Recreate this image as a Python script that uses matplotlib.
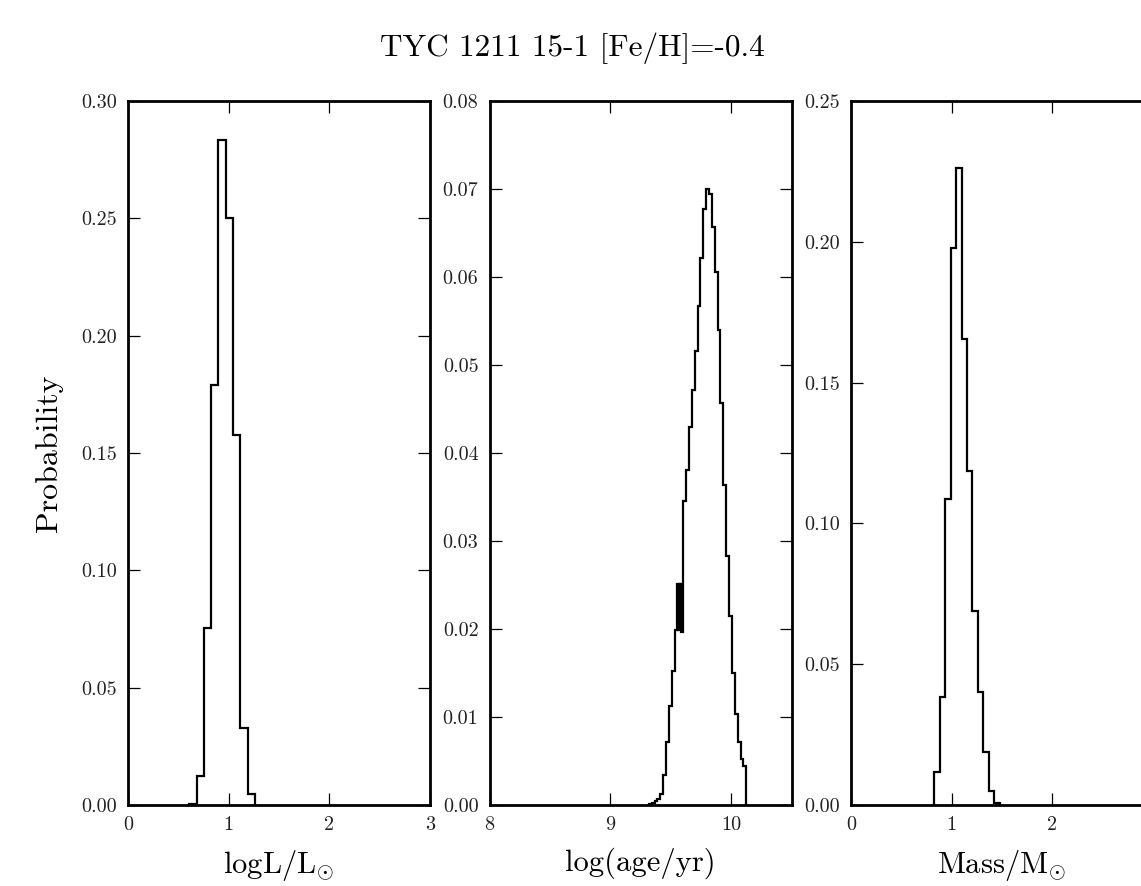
import matplotlib
matplotlib.use("Agg")
import matplotlib.pyplot as plt
import numpy as np
from matplotlib.ticker import FormatStrFormatter, FixedLocator, FixedFormatter

plt.rcParams['font.family'] = 'serif'
plt.rcParams['font.serif'] = ['cmr10']
plt.rcParams['mathtext.fontset'] = 'cm'
plt.rcParams['axes.unicode_minus'] = False
plt.rcParams['axes.formatter.use_mathtext'] = True

# ---------------- data ----------------
title = "TYC 1211 15-1 [Fe/H]=-0.4"

lum_edges = [0.608, 0.681, 0.753, 0.826, 0.899, 0.972, 1.044, 1.117, 1.190, 1.262]
lum_prob = [0.0004, 0.0125, 0.0755, 0.1790, 0.2835, 0.2500, 0.1575, 0.0330, 0.0047]

age_edges = [9.319, 9.343, 9.366, 9.390, 9.414, 9.438, 9.461, 9.485, 9.509, 9.533,
             9.556, 9.562, 9.568, 9.574, 9.580, 9.586, 9.604,
             9.627, 9.651, 9.675, 9.698, 9.722, 9.746, 9.770, 9.793, 9.817,
             9.841, 9.864, 9.888, 9.912, 9.935, 9.959, 9.983, 10.007, 10.030,
             10.054, 10.078, 10.101, 10.125]
age_prob = [0.0001, 0.0002, 0.0004, 0.0007, 0.0013, 0.0034, 0.0072, 0.0112, 0.0152,
            0.0199, 0.0251, 0.0199, 0.0251, 0.0199, 0.0251, 0.0197,
            0.0346, 0.0381, 0.0429, 0.0472, 0.0516, 0.0567, 0.0622, 0.0677,
            0.0700, 0.0694, 0.0657, 0.0606, 0.0540, 0.0457, 0.0364, 0.0283,
            0.0215, 0.0150, 0.0103, 0.0072, 0.0052, 0.0044]

mass_edges = [0.827, 0.881, 0.935, 0.990, 1.044, 1.098, 1.152, 1.206, 1.261,
              1.315, 1.369, 1.423, 1.477]
mass_prob = [0.0118, 0.0384, 0.1087, 0.1977, 0.2263, 0.1655, 0.1185, 0.0690,
             0.0400, 0.0188, 0.0049, 0.0008]

panels = [
    dict(edges=lum_edges, prob=lum_prob, xlim=(0, 3), xticks=[0, 1, 2, 3],
         xticklabels=['0', '1', '2', '3'],
         ylim=(0, 0.30), yticks=[0.00, 0.05, 0.10, 0.15, 0.20, 0.25, 0.30],
         xlabel=r"logL/L$_{\odot}$"),
    dict(edges=age_edges, prob=age_prob, xlim=(8, 10.5), xticks=[8, 9, 10],
         xticklabels=['8', '9', '10'],
         ylim=(0, 0.08), yticks=[0.00, 0.01, 0.02, 0.03, 0.04, 0.05, 0.06, 0.07, 0.08],
         xlabel="log(age/yr)"),
    dict(edges=mass_edges, prob=mass_prob, xlim=(0, 3), xticks=[0, 1, 2, 3],
         xticklabels=['0', '1', '2', ''],
         ylim=(0, 0.25), yticks=[0.00, 0.05, 0.10, 0.15, 0.20, 0.25],
         xlabel=r"Mass/M$_{\odot}$"),
]

# ---------------- figure ----------------
W, H = 1141, 886
fig = plt.figure(figsize=(W / 100, H / 100), dpi=100)
lefts_px = [128, 489.5, 851]
ax_w_px = 302
top_px, bot_px = 101, 805

for i, p in enumerate(panels):
    ax = fig.add_axes([lefts_px[i] / W, (H - bot_px) / H, ax_w_px / W,
                       (bot_px - top_px) / H])
    edges = np.array(p['edges'])
    centers = 0.5 * (edges[:-1] + edges[1:])
    ax.hist(centers, bins=edges, weights=p['prob'], histtype='step',
            color='black', linewidth=1.6)
    ax.set_xlim(*p['xlim'])
    ax.set_ylim(*p['ylim'])
    ax.xaxis.set_major_locator(FixedLocator(p['xticks']))
    ax.xaxis.set_major_formatter(FixedFormatter(p['xticklabels']))
    ax.yaxis.set_major_locator(FixedLocator(p['yticks']))
    ax.yaxis.set_major_formatter(FormatStrFormatter('%.2f'))
    ax.tick_params(direction='in', length=8.5, width=0.9, top=True, right=True,
                   labelsize=14.5, pad=8, labelcolor='#222222')
    for s in ax.spines.values():
        s.set_linewidth(2.0)
    ax.set_xlabel(p['xlabel'], fontsize=22, labelpad=10)
    if i == 0:
        ax.set_ylabel("Probability", fontsize=23, labelpad=13)

fig.text(0.5015, 0.945, title, ha='center', va='center', fontsize=22.5)

fig.savefig("out.png", dpi=100)
